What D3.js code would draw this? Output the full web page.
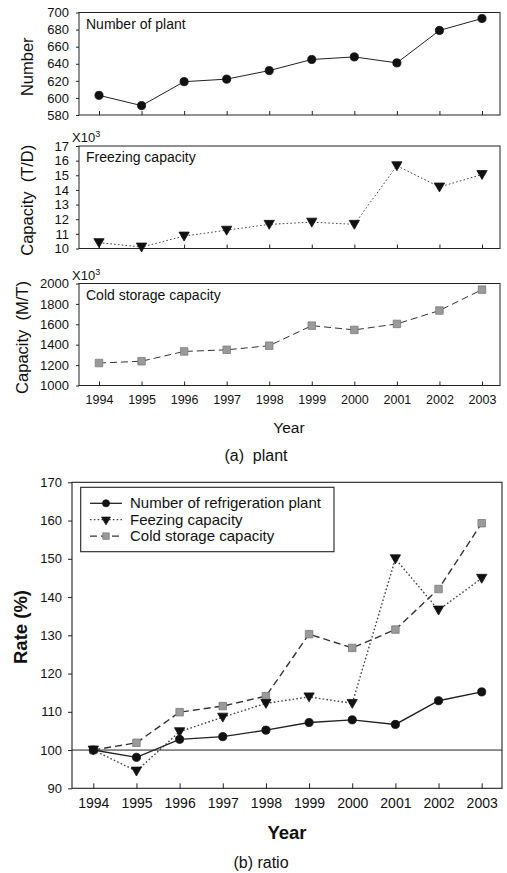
<!DOCTYPE html>
<html>
<head>
<meta charset="utf-8">
<script src="https://cdn.jsdelivr.net/npm/d3@7"></script>
<style>
  html, body { margin: 0; padding: 0; background: #fff; }
  svg { display: block; font-family: "Liberation Sans", Arial, sans-serif; }
  text { fill: #111; }
</style>
</head>
<body>
<svg id="chart" width="507" height="873"></svg>
<script>
// Refrigeration plants, 1994-2003
const years = [1994, 1995, 1996, 1997, 1998, 1999, 2000, 2001, 2002, 2003];

// (a) absolute values
const plantCount = [603, 591, 619, 622, 632, 645, 648, 641, 679, 693];
const freezingCapacity = [10.4, 10.1, 10.85, 11.25, 11.65, 11.8, 11.65, 15.65, 14.2, 15.05]; // x10^3 T/D
const coldStorageCapacity = [1220, 1238, 1334, 1350, 1390, 1587, 1545, 1604, 1735, 1940]; // x10^3 M/T

// (b) ratio to 1994 (%)
const plantRate = [100, 98.1, 102.8, 103.5, 105.2, 107.2, 107.9, 106.7, 112.9, 115.2];
const freezingRate = [100, 94.5, 104.8, 108.6, 112.2, 113.9, 112.2, 150, 136.6, 144.9];
const coldStorageRate = [100, 101.9, 109.9, 111.5, 114.1, 130.3, 126.7, 131.5, 142.1, 159.3];

// tick values
const plantTicks = [580, 600, 620, 640, 660, 680, 700];
const freezingTicks = [10, 11, 12, 13, 14, 15, 16, 17];
const coldTicks = [1000, 1200, 1400, 1600, 1800, 2000];
const rateTicks = [90, 100, 110, 120, 130, 140, 150, 160, 170];

const seriesNames = ["Number of refrigeration plant", "Feezing capacity", "Cold storage capacity"];

const svg = d3.select("#chart");
const fmt = d3.format("d");

// line/marker styles per series kind
const styles = {
  plant:   { dash: null,  symbol: d3.symbolCircle, size: 52, fill: "#111", stroke: "#111", rotate: 0, lineColor: "#222" },
  freeze:  { dash: "1.6,2.2", symbol: d3.symbolTriangle, size: 46, fill: "#111", stroke: "#111", rotate: 180, lineColor: "#444" },
  cold:    { dash: "7,4", symbol: d3.symbolSquare, size: 56, fill: "#9a9a9a", stroke: "#7a7a7a", rotate: 0, lineColor: "#333" }
};

function drawSeries(g, x, y, values, st, lw) {
  const line = d3.line().x((d, i) => x(years[i])).y(d => y(d));
  g.append("path")
    .attr("d", line(values))
    .attr("fill", "none")
    .attr("stroke", st.lineColor)
    .attr("stroke-width", lw)
    .attr("stroke-dasharray", st.dash);
  const sym = d3.symbol().type(st.symbol).size(st.size);
  g.selectAll(null).data(values).join("path")
    .attr("d", sym)
    .attr("transform", (d, i) => `translate(${x(years[i])},${y(d) + (st.rotate ? -1 : 0)}) rotate(${st.rotate})`)
    .attr("fill", st.fill)
    .attr("stroke", st.stroke)
    .attr("stroke-width", 0.8);
}

// ---------- (a) plant: three stacked panels ----------
const aLeft = 79, aRight = 500;
const xa = d3.scalePoint().domain(years).range([99, 482]);

const panels = [
  { top: 12.5, bottom: 115, domain: [580, 700], ticks: plantTicks, values: plantCount, st: styles.plant,
    title: "Number", titleX: 27, inner: "Number of plant", exp: false },
  { top: 146, bottom: 248.5, domain: [10, 17], ticks: freezingTicks, values: freezingCapacity, st: styles.freeze,
    title: "Capacity  (T/D)", titleX: 27, inner: "Freezing capacity", exp: true },
  { top: 283.5, bottom: 385.5, domain: [1000, 2000], ticks: coldTicks, values: coldStorageCapacity, st: styles.cold,
    title: "Capacity  (M/T)", titleX: 22, inner: "Cold storage capacity", exp: true }
];

panels.forEach((p, idx) => {
  const y = d3.scaleLinear().domain(p.domain).range([p.bottom, p.top]);
  const g = svg.append("g");

  // frame
  g.append("rect")
    .attr("x", aLeft).attr("y", p.top)
    .attr("width", aRight - aLeft).attr("height", p.bottom - p.top)
    .attr("fill", "none").attr("stroke", "#222").attr("stroke-width", 1);

  // y axis
  const yAxis = g.append("g").attr("transform", `translate(${aLeft},0)`)
    .call(d3.axisLeft(y).tickValues(p.ticks).tickFormat(fmt).tickSize(3).tickPadding(7));
  yAxis.select(".domain").remove();
  yAxis.selectAll("line").attr("stroke", "#222");
  yAxis.selectAll("text").attr("font-size", 13).attr("fill", "#111").attr("font-family", "Liberation Sans, Arial, sans-serif");

  // x axis ticks (inside)
  const xAxis = g.append("g").attr("transform", `translate(0,${p.bottom})`)
    .call(d3.axisTop(xa).tickSize(4).tickFormat(""));
  xAxis.select(".domain").remove();
  xAxis.selectAll("line").attr("stroke", "#222");

  if (idx === panels.length - 1) {
    const lab = g.append("g").attr("transform", `translate(0,${p.bottom})`)
      .call(d3.axisBottom(xa).tickSize(0).tickPadding(10));
    lab.select(".domain").remove();
    lab.selectAll("text").attr("font-size", 12.5).attr("fill", "#111").attr("font-family", "Liberation Sans, Arial, sans-serif");
  }

  // titles
  g.append("text")
    .attr("transform", `translate(${p.titleX},${(p.top + p.bottom) / 2 + 3}) rotate(-90)`)
    .attr("text-anchor", "middle").attr("dominant-baseline", "central")
    .attr("font-size", 16.5).style("white-space", "pre")
    .text(p.title);

  g.append("text")
    .attr("x", 86).attr("y", p.top + 16)
    .attr("font-size", 14).text(p.inner);

  if (p.exp) {
    const t = g.append("text").attr("x", 72).attr("y", p.top - 4).attr("font-size", 13);
    t.append("tspan").text("X10");
    t.append("tspan").attr("dy", -5).attr("font-size", 9).text("3");
  }

  drawSeries(g, xa, y, p.values, p.st, 1);
});

svg.append("text").attr("x", 289).attr("y", 433)
  .attr("text-anchor", "middle").attr("font-size", 15.5).text("Year");
svg.append("text").attr("x", 256).attr("y", 461)
  .attr("text-anchor", "middle").attr("font-size", 16).style("white-space", "pre").text("(a)  plant");

// ---------- (b) ratio ----------
const bLeft = 72, bRight = 502, bTop = 482.3, bBottom = 788.3;
const xb = d3.scalePoint().domain(years).range([93.3, 481.7]);
const yb = d3.scaleLinear().domain([90, 170]).range([bBottom, bTop]);
const gb = svg.append("g");

gb.append("rect")
  .attr("x", bLeft).attr("y", bTop)
  .attr("width", bRight - bLeft).attr("height", bBottom - bTop)
  .attr("fill", "none").attr("stroke", "#222").attr("stroke-width", 1.1);

const ybAxis = gb.append("g").attr("transform", `translate(${bLeft},0)`)
  .call(d3.axisLeft(yb).tickValues(rateTicks).tickFormat(fmt).tickSize(4).tickPadding(6));
ybAxis.select(".domain").remove();
ybAxis.selectAll("line").attr("stroke", "#222");
ybAxis.selectAll("text").attr("font-size", 13).attr("fill", "#111").attr("font-family", "Liberation Sans, Arial, sans-serif");

const xbTicks = gb.append("g").attr("transform", `translate(0,${bBottom})`)
  .call(d3.axisTop(xb).tickSize(5).tickFormat(""));
xbTicks.select(".domain").remove();
xbTicks.selectAll("line").attr("stroke", "#222");

const xbLabels = gb.append("g").attr("transform", `translate(0,${bBottom})`)
  .call(d3.axisBottom(xb).tickSize(0).tickPadding(10));
xbLabels.select(".domain").remove();
xbLabels.selectAll("text").attr("font-size", 14).attr("fill", "#111").attr("font-family", "Liberation Sans, Arial, sans-serif");

// 100 % reference line
gb.append("line")
  .attr("x1", bLeft).attr("x2", bRight)
  .attr("y1", yb(100)).attr("y2", yb(100))
  .attr("stroke", "#222").attr("stroke-width", 1);

drawSeries(gb, xb, yb, coldStorageRate, styles.cold, 1.4);
drawSeries(gb, xb, yb, freezingRate, styles.freeze, 1.4);
drawSeries(gb, xb, yb, plantRate, styles.plant, 1.4);

// legend
const leg = gb.append("g");
leg.append("rect")
  .attr("x", 80.7).attr("y", 487.3).attr("width", 253.3).attr("height", 64.4)
  .attr("fill", "#fff").attr("stroke", "#222").attr("stroke-width", 1.1);
const legStyles = [styles.plant, styles.freeze, styles.cold];
seriesNames.forEach((name, i) => {
  const yy = 503.3 + i * 16.4;
  const st = legStyles[i];
  leg.append("line").attr("x1", 90).attr("x2", 122).attr("y1", yy).attr("y2", yy)
    .attr("stroke", st.lineColor).attr("stroke-width", 1.3).attr("stroke-dasharray", st.dash);
  leg.append("path")
    .attr("d", d3.symbol().type(st.symbol).size(st.size * 0.75)())
    .attr("transform", `translate(106,${yy}) rotate(${st.rotate})`)
    .attr("fill", st.fill).attr("stroke", st.stroke).attr("stroke-width", 0.8);
  leg.append("text").attr("x", 130).attr("y", yy + 5).attr("font-size", 15).text(name);
});

svg.append("text")
  .attr("transform", `translate(20,627) rotate(-90)`)
  .attr("text-anchor", "middle").attr("dominant-baseline", "central")
  .attr("font-size", 18.5).attr("font-weight", "bold").text("Rate (%)");
svg.append("text").attr("x", 287).attr("y", 839)
  .attr("text-anchor", "middle").attr("font-size", 18.5).attr("font-weight", "bold").text("Year");
svg.append("text").attr("x", 261).attr("y", 868)
  .attr("text-anchor", "middle").attr("font-size", 16).text("(b) ratio");
</script>
</body>
</html>
